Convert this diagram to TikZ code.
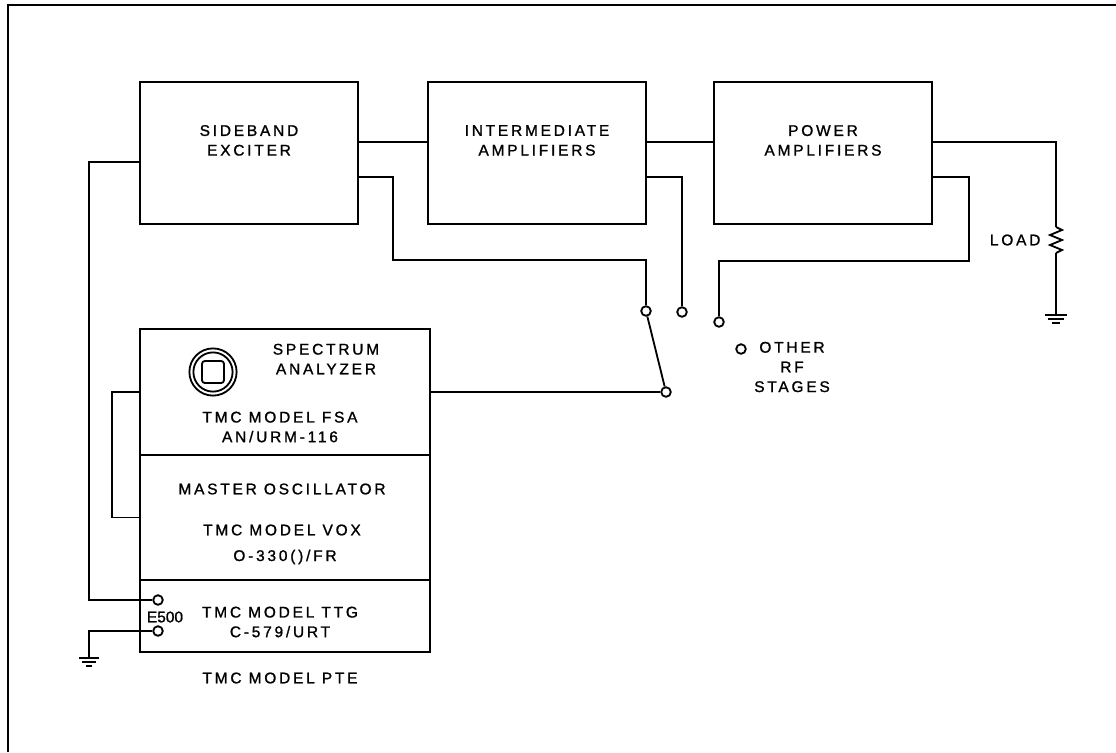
\documentclass[tikz,border=0pt]{standalone}
\usepackage{fontspec}
\newfontfamily\leroy[LetterSpace=18,FakeBold=1.2]{Liberation Sans}
\newfontfamily\leroyn[FakeBold=1.2]{Liberation Sans}
\usetikzlibrary{positioning}

\begin{document}
\begin{tikzpicture}[x=0.025cm,y=-0.025cm,line width=1.3pt,
  every node/.style={font=\leroy\fontsize{11}{14}\selectfont},
  block/.style={draw,align=center,minimum width=5.45cm,minimum height=3.55cm},
  panel/.style={draw,minimum width=7.25cm,inner sep=0pt},
  term/.style={circle,draw,fill=white,inner sep=0pt,minimum size=0.24cm}]

  \useasboundingbox (0,0) rectangle (1116,752);
  \draw[line width=0.9pt] (1116,5) -- (8,5) -- (8,752);

  % transmitter chain
  \node[block] (sb) at (249,153) {SIDEBAND\\EXCITER\\[4pt]};
  \node[block] (ia) at (537,153) {INTERMEDIATE\\AMPLIFIERS\\[4pt]};
  \node[block] (pa) at (823,153) {POWER\\AMPLIFIERS\\[4pt]};

  % test set
  \node[panel,minimum height=3.15cm] (fsa) at (285,392) {};
  \node[panel,minimum height=3.125cm] (mo) at (285,517.5) {};
  \node[panel,minimum height=1.8cm] (ttg) at (285,616) {};

  \node[align=center] (sa) at (326,359) {SPECTRUM\\ANALYZER};
  \node[align=center] (fsat) at (280,427) {TMC MODEL FSA\\AN/URM-116};
  \node (mot) at (282,489) {MASTER OSCILLATOR};
  \node (vox) at (282,530) {TMC MODEL VOX};
  \node (vo) at (285,557) {O-330()/FR};
  \node[align=center] (ttgt) at (280,622) {TMC MODEL TTG\\C-579/URT};
  \node[font=\leroyn\fontsize{11}{14}\selectfont] (e500) at (165,617) {E500};
  \node (pte) at (280,678) {TMC MODEL PTE};

  % scope tube
  \draw (213,372) circle[radius=0.59cm];
  \draw (213,372) circle[radius=0.49cm];
  \draw[rounded corners=2pt] (202,361) rectangle (224,383);

  % terminals
  \foreach \n/\x/\y in {t1/646/311, t2/682/312, t3/719/322, t4/741/349,
                        sw/666/392, e1/158/600, e2/158/631}
    \node[term] (\n) at (\x,\y) {};

  \node[align=center] (rf) at (792,367) {OTHER\\RF\\STAGES};

  % load
  \coordinate (r1) at (1056,227);
  \coordinate (r2) at (1056,253);
  \coordinate (g1) at (1056,315);
  \node[anchor=east] (ld) at (1046,240) {LOAD};

  % connectors
  \draw ([yshift=0.275cm]sb.east) -- ([yshift=0.275cm]ia.west);
  \draw ([yshift=0.275cm]ia.east) -- ([yshift=0.275cm]pa.west);
  \draw ([yshift=0.275cm]pa.east) -| (r1);
  \draw (r1) -- ++(6,3) -- ++(-12,5) -- ++(12,5) -- ++(-12,5) -- ++(12,5) -- (r2);
  \draw (r2) -- (g1);
  \foreach \w/\d in {11/0,8/4,4/8}
    \draw (g1) ++(-\w,\d) -- ++(2*\w,0);

  \draw ([yshift=-0.6cm]sb.east) -- ++(34,0) -- ++(0,83) -| (t1);
  \draw ([yshift=-0.6cm]ia.east) -| (t2);
  \draw ([yshift=-0.6cm]pa.east) -- ++(36,0) -- ++(0,84) -| (t3);
  \draw (t1) -- (sw);
  \draw (fsa.east) -- (sw);

  \draw (fsa.west) -- ++(-27,0) |- (mo.west);
  \draw ([yshift=-0.225cm]sb.west) -- ++(-50,0) |- (e1);
  \draw (e2) -- ++(-69,0) -- ++(0,27) coordinate (g2);
  \foreach \w/\d in {10/0,7/4,3/8}
    \draw (g2) ++(-\w,\d) -- ++(2*\w,0);
\end{tikzpicture}
\end{document}
